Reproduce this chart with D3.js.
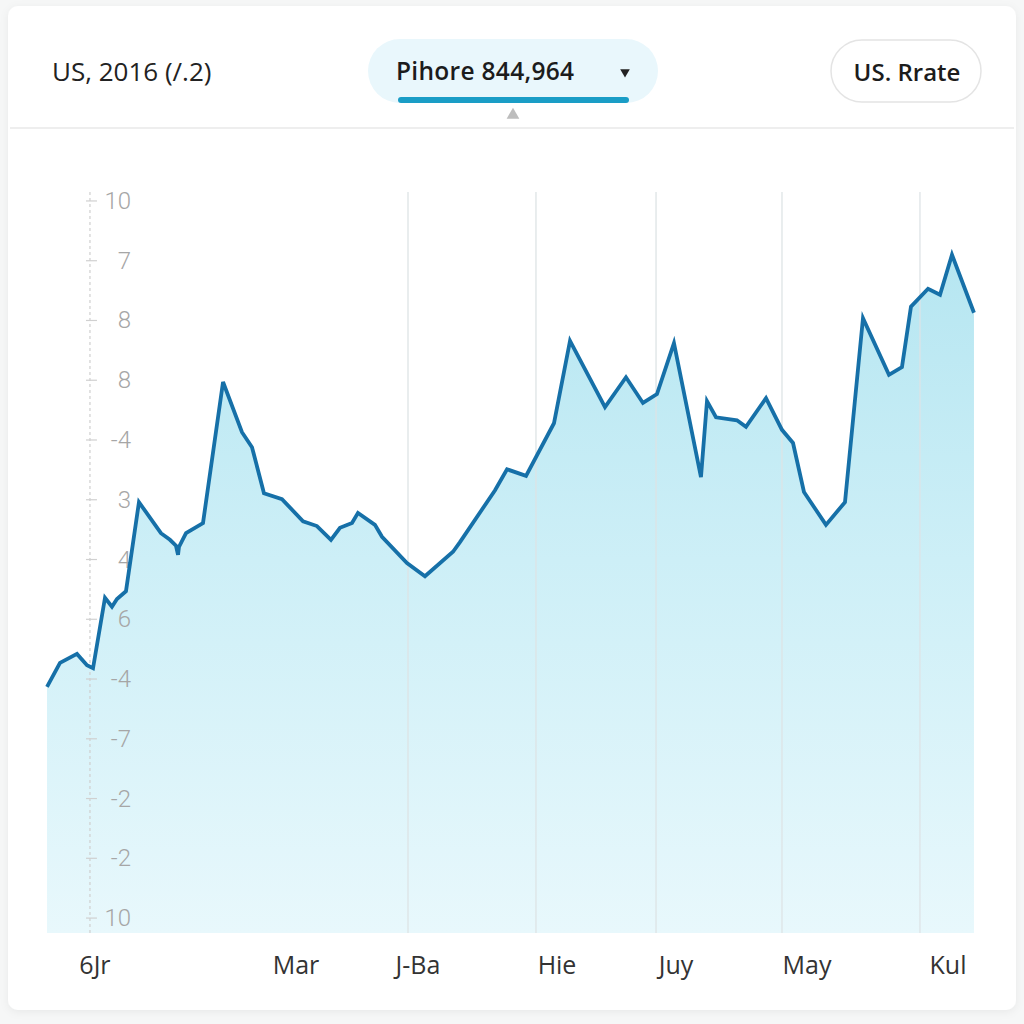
<!DOCTYPE html>
<html>
<head>
<meta charset="utf-8">
<script src="https://cdn.jsdelivr.net/npm/d3@7"></script>
<style>
    html, body { margin: 0; padding: 0; background: #f6f7f7; }
    svg { display: block; }
</style>
</head>
<body>
<div id="chart"></div>
<script>
// days along the x axis and the rate
var dayIndex = [0, 1.4, 3.23, 4.31, 4.96, 6.25, 7.0, 7.54, 8.51, 9.91, 12.28, 13.25, 13.9, 14.12, 14.22, 14.98,
    16.81, 18.97, 21.01, 22.09, 23.38, 25.32, 27.59, 29.09, 30.6, 31.57, 32.87, 33.51, 35.34, 36.1, 38.79, 40.73,
    43.75, 44.5, 48.28, 49.57, 51.62, 54.63, 56.36, 60.13, 62.39, 64.22, 65.73, 67.56, 70.47, 71.12, 72.09, 74.35,
    75.32, 77.48, 79.2, 80.39, 81.57, 83.94, 85.99, 87.93, 90.73, 92.13, 93.1, 94.94, 96.23, 97.52, 99.89];
var rateValues = [3.87, 4.27, 4.42, 4.23, 4.18, 5.36, 5.21, 5.34, 5.47, 6.96, 6.44, 6.33, 6.23, 6.08, 6.21, 6.44,
    6.61, 8.97, 8.13, 7.88, 7.11, 7.01, 6.64, 6.56, 6.33, 6.53, 6.61, 6.78, 6.58, 6.38, 5.94, 5.72,
    6.13, 6.29, 7.16, 7.51, 7.4, 8.28, 9.66, 8.55, 9.05, 8.62, 8.77, 9.62, 7.38, 8.65, 8.38, 8.33,
    8.22, 8.7, 8.17, 7.95, 7.13, 6.58, 6.96, 10.04, 9.09, 9.22, 10.23, 10.53, 10.43, 11.1, 10.13];

var yTickLabels = ["10", "7", "8", "8", "-4", "3", "4", "6", "-4", "-7", "-2", "-2", "10"];
var xTickLabels = ["6Jr", "Mar", "J-Ba", "Hie", "Juy", "May", "Kul"];
var xTickDays = [5.17, 26.83, 39.98, 54.96, 67.78, 81.9, 97.09];
var gridDays = [38.9, 52.69, 65.63, 79.2, 94.07];
var axisDay = 4.63;

var headerLeft = "US, 2016 (/.2)";
var headerSelect = "Pihore 844,964";
var headerButton = "US. Rrate";

var width = 1024, height = 1024;
var plotLeft = 47, plotRight = 975, plotTop = 192, plotBottom = 933;

var svg = d3.select("#chart")
    .append("svg")
    .attr("width", width)
    .attr("height", height)
    .attr("viewBox", `0 0 ${width} ${height}`);

var defs = svg.append("defs");

var shadow = defs.append("filter")
    .attr("id", "cardShadow")
    .attr("x", "-5%").attr("y", "-5%")
    .attr("width", "110%").attr("height", "110%");
shadow.append("feDropShadow")
    .attr("dx", 0).attr("dy", 2)
    .attr("stdDeviation", 4)
    .attr("flood-color", "#000")
    .attr("flood-opacity", 0.06);

var grad = defs.append("linearGradient")
    .attr("id", "areaFill")
    .attr("x1", 0).attr("y1", 0)
    .attr("x2", 0).attr("y2", 1);
grad.append("stop").attr("offset", "0%").attr("stop-color", "#b6e6f1");
grad.append("stop").attr("offset", "45%").attr("stop-color", "#cdeff7");
grad.append("stop").attr("offset", "100%").attr("stop-color", "#e8f8fc");

svg.append("rect")
    .attr("x", 8).attr("y", 6)
    .attr("width", 1008).attr("height", 1004)
    .attr("rx", 10)
    .attr("fill", "#ffffff")
    .attr("filter", "url(#cardShadow)");

// header
var header = svg.append("g");

header.append("text")
    .attr("x", 52).attr("y", 71)
    .attr("dominant-baseline", "central")
    .attr("font-family", "Open Sans, sans-serif")
    .attr("font-size", "26px")
    .attr("fill", "#222")
    .text(headerLeft);

header.append("rect")
    .attr("x", 368).attr("y", 39)
    .attr("width", 290).attr("height", 64)
    .attr("rx", 32)
    .attr("fill", "#e9f7fc");

header.append("text")
    .attr("x", 396).attr("y", 70)
    .attr("dominant-baseline", "central")
    .attr("font-family", "Open Sans, sans-serif")
    .attr("font-weight", 600)
    .attr("font-size", "24.5px")
    .attr("letter-spacing", "0.3px")
    .attr("fill", "#1c1c1c")
    .text(headerSelect);

header.append("path")
    .attr("d", d3.symbol(d3.symbolTriangle, 40)())
    .attr("transform", "translate(625,72) rotate(180)")
    .attr("fill", "#222");

header.append("rect")
    .attr("x", 398).attr("y", 97)
    .attr("width", 231).attr("height", 6)
    .attr("rx", 3)
    .attr("fill", "#1a9dc6");

header.append("path")
    .attr("d", d3.symbol(d3.symbolTriangle, 70)())
    .attr("transform", "translate(513,115)")
    .attr("fill", "#bdbdbd");

header.append("rect")
    .attr("x", 831).attr("y", 40)
    .attr("width", 150).attr("height", 62)
    .attr("rx", 31)
    .attr("fill", "#fff")
    .attr("stroke", "#e4e4e4")
    .attr("stroke-width", 1.5);

header.append("text")
    .attr("x", 907).attr("y", 71)
    .attr("text-anchor", "middle")
    .attr("dominant-baseline", "central")
    .attr("font-family", "Open Sans, sans-serif")
    .attr("font-weight", 600)
    .attr("font-size", "24px")
    .attr("fill", "#1c1c1c")
    .text(headerButton);

svg.append("line")
    .attr("x1", 10).attr("x2", 1014)
    .attr("y1", 128).attr("y2", 128)
    .attr("stroke", "#e8e8e8")
    .attr("stroke-width", 1.5);

// chart
var scaleX = d3.scaleLinear([0, 100], [plotLeft, plotRight]);
var scaleY = d3.scaleLinear([-0.25, 12.15], [plotBottom, plotTop]);

var points = dayIndex.map(function (d, i) { return { day: d, rate: rateValues[i] }; });

var area = d3.area()
    .x(function (p) { return scaleX(p.day); })
    .y0(scaleY(-0.25))
    .y1(function (p) { return scaleY(p.rate); });

var line = d3.line()
    .x(function (p) { return scaleX(p.day); })
    .y(function (p) { return scaleY(p.rate); });

svg.append("path")
    .datum(points)
    .attr("d", area)
    .attr("fill", "url(#areaFill)");

svg.append("g")
    .selectAll("line")
    .data(gridDays)
    .enter()
    .append("line")
        .attr("x1", function (d) { return scaleX(d); })
        .attr("x2", function (d) { return scaleX(d); })
        .attr("y1", plotTop)
        .attr("y2", plotBottom)
        .attr("stroke", "#dde3e5")
        .attr("stroke-opacity", 0.85)
        .attr("stroke-width", 1.5);

// y axis: dashed rule, small ticks and labels
var axisG = svg.append("g");

axisG.append("line")
    .attr("x1", scaleX(axisDay)).attr("x2", scaleX(axisDay))
    .attr("y1", plotTop).attr("y2", plotBottom)
    .attr("stroke", "#cfcfcf")
    .attr("stroke-width", 1.2)
    .attr("stroke-dasharray", "3,3");

var yTicks = yTickLabels.map(function (t, i) { return { label: t, value: 12 - i }; });

axisG.selectAll("line.tick")
    .data(yTicks)
    .enter()
    .append("line")
        .attr("class", "tick")
        .attr("x1", scaleX(axisDay) - 4)
        .attr("x2", scaleX(axisDay) + 7)
        .attr("y1", function (t) { return scaleY(t.value); })
        .attr("y2", function (t) { return scaleY(t.value); })
        .attr("stroke", "#d0d0d0")
        .attr("stroke-width", 1.2);

axisG.selectAll("text")
    .data(yTicks)
    .enter()
    .append("text")
        .attr("x", 131)
        .attr("y", function (t) { return scaleY(t.value); })
        .attr("text-anchor", "end")
        .attr("dominant-baseline", "central")
        .attr("font-family", "Roboto, sans-serif")
        .attr("font-weight", 300)
        .attr("font-size", "24px")
        .attr("fill", "#a6a6a6")
        .text(function (t) { return t.label; });

svg.append("path")
    .datum(points)
    .attr("d", line)
    .attr("fill", "none")
    .attr("stroke", "#1670a8")
    .attr("stroke-width", 3.8)
    .attr("stroke-linejoin", "miter");

// x axis labels
svg.append("g")
    .selectAll("text")
    .data(xTickLabels)
    .enter()
    .append("text")
        .attr("x", function (d, i) { return scaleX(xTickDays[i]); })
        .attr("y", 964)
        .attr("text-anchor", "middle")
        .attr("dominant-baseline", "central")
        .attr("font-family", "Open Sans, sans-serif")
        .attr("font-size", "25px")
        .attr("fill", "#333")
        .text(function (d) { return d; });
</script>
</body>
</html>
